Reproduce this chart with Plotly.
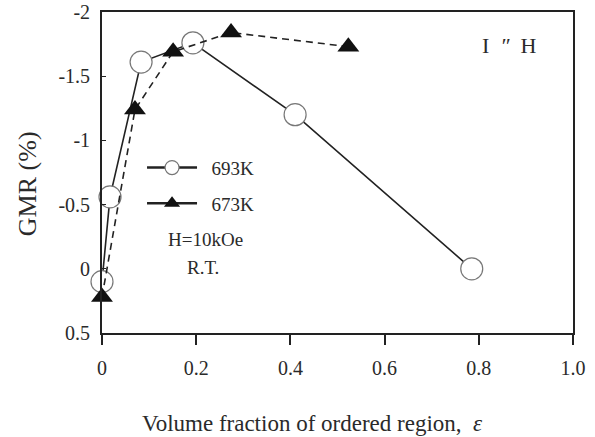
import plotly.graph_objects as go

x693 = [0.0, 0.017, 0.083, 0.193, 0.41, 0.785]
y693 = [0.1, -0.56, -1.61, -1.76, -1.2, 0.0]
x673 = [0.0, 0.07, 0.151, 0.274, 0.523]
y673 = [0.22, -1.24, -1.69, -1.84, -1.73]
xticks = [0, 0.2, 0.4, 0.6, 0.8, 1.0]
xticktext = ["0", "0.2", "0.4", "0.6", "0.8", "1.0"]
yticks = [-2, -1.5, -1, -0.5, 0, 0.5]
yticktext = ["-2", "-1.5", "-1", "-0.5", "0", "0.5"]

FONT = "Liberation Serif"
TC = "#2a2a2a"
LC = "#222222"
NB = "\u00a0\u00a0"

fig = go.Figure()
fig.add_trace(go.Scatter(
    x=x693, y=y693, mode="lines+markers", name="693K", showlegend=False,
    line=dict(color=LC, width=1.6),
    marker=dict(symbol="circle", size=22, color="white", line=dict(color="#777", width=1.2)),
    cliponaxis=False))
fig.add_trace(go.Scatter(
    x=x673, y=y673, mode="lines+markers", name="673K", showlegend=False,
    line=dict(color=LC, width=1.6, dash="7px,5px"),
    marker=dict(symbol="triangle-up", size=19, color="#111", line=dict(color="#111", width=0)),
    cliponaxis=False))
# legend entries (solid line samples as in the original key)
fig.add_trace(go.Scatter(
    x=[None], y=[None], mode="lines+markers", name=NB + "693K", legendgroup="a",
    line=dict(color=LC, width=2.5),
    marker=dict(symbol="circle", size=14, color="white", line=dict(color="#777", width=1.2))))
fig.add_trace(go.Scatter(
    x=[None], y=[None], mode="lines+markers", name=NB + "673K", legendgroup="b",
    line=dict(color=LC, width=2.5),
    marker=dict(symbol="triangle-up", size=14, color="#111")))

ann_font = dict(size=19, family=FONT, color=TC)
fig.update_layout(
    width=595, height=437,
    margin=dict(l=102, r=22, t=12, b=104),
    plot_bgcolor="white", paper_bgcolor="white",
    font=dict(family=FONT, size=20, color=TC),
    legend=dict(x=0.085, y=0.574, xanchor="left", yanchor="top",
                bgcolor="rgba(0,0,0,0)", font=dict(size=19, family=FONT, color=TC),
                tracegroupgap=8, traceorder="grouped", itemwidth=50),
    xaxis=dict(range=[0, 1.0], tickvals=xticks, ticktext=xticktext, automargin=False,
               showgrid=False, zeroline=False, showline=True, linecolor=LC, linewidth=1.8,
               mirror=True, ticks="outside", ticklen=10, tickwidth=1.5, tickcolor=LC,
               ticklabelstandoff=6),
    yaxis=dict(range=[0.5, -2], tickvals=yticks, ticktext=yticktext, automargin=False,
               showgrid=False, zeroline=False, showline=True, linecolor=LC, linewidth=1.8,
               mirror=True, ticks="inside", ticklen=4, tickwidth=1.2, tickcolor=LC,
               ticklabelstandoff=6),
    annotations=[
        dict(text="Volume fraction of ordered region,  <i>ε</i>", x=0.446, y=-0.283,
             xref="paper", yref="paper", showarrow=False, xanchor="center", yanchor="middle",
             font=dict(size=23, family=FONT, color=TC)),
        dict(text="GMR (%)", x=-0.159, y=0.464, textangle=-90,
             xref="paper", yref="paper", showarrow=False, xanchor="center", yanchor="middle",
             font=dict(size=26, family=FONT, color=TC)),
        dict(text="H=10kOe", x=0.219, y=0.29, xref="paper", yref="paper", showarrow=False,
             xanchor="center", yanchor="middle", font=ann_font),
        dict(text="R.T.", x=0.214, y=0.2025, xref="paper", yref="paper", showarrow=False,
             xanchor="center", yanchor="middle", font=ann_font),
        dict(text="I\u00a0 <i>″</i> \u00a0H", x=0.866, y=0.897, xref="paper", yref="paper", showarrow=False,
             xanchor="center", yanchor="middle", font=dict(size=22, family=FONT, color=TC)),
    ],
)

fig.write_html("out.html")
